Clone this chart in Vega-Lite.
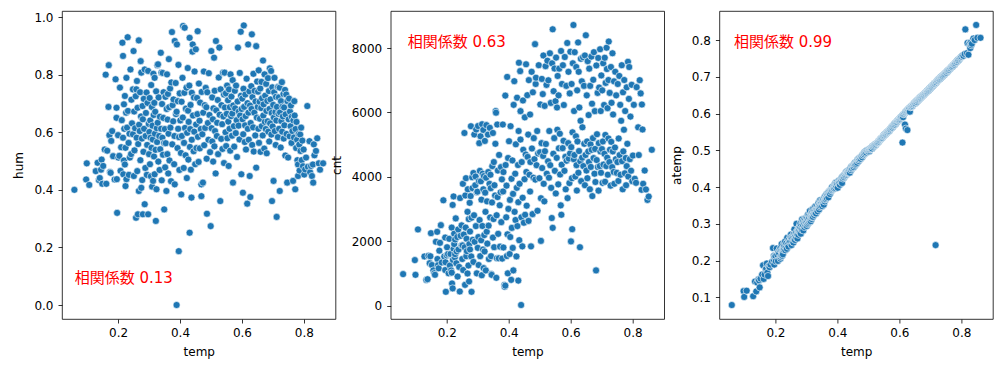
{
"$schema": "https://vega.github.io/schema/vega-lite/v6.json",
"padding": {"left": 12, "top": 10, "right": 5, "bottom": 5},
"background": "white",
"config": {
 "view": {"stroke": "#000", "strokeWidth": 0.8},
 "concat": {"spacing": 54.7},
 "axis": {"grid": false, "domain": false, "tickColor": "#000", "tickSize": 4, "tickWidth": 0.8, "labelColor": "#000", "labelFont": "DejaVu Sans", "labelFontSize": 12, "titleFont": "DejaVu Sans", "titleFontSize": 12, "titleFontWeight": "normal", "titleColor": "#000", "labelPadding": 4, "titlePadding": 8},
 "axisY": {"labelPadding": 5}
},
"bounds": "flush",
"datasets": {"day": [
{"temp":0.059,"atemp":0.079,"hum":0.400,"cnt":981},
{"temp":0.097,"atemp":0.117,"hum":0.436,"cnt":1416},
{"temp":0.099,"atemp":0.101,"hum":0.492,"cnt":959},
{"temp":0.107,"atemp":0.118,"hum":0.417,"cnt":2368},
{"temp":0.128,"atemp":0.103,"hum":0.465,"cnt":1529},
{"temp":0.134,"atemp":0.143,"hum":0.494,"cnt":801},
{"temp":0.138,"atemp":0.116,"hum":0.434,"cnt":822},
{"temp":0.141,"atemp":0.140,"hum":0.441,"cnt":1550},
{"temp":0.145,"atemp":0.149,"hum":0.470,"cnt":1321},
{"temp":0.147,"atemp":0.146,"hum":0.505,"cnt":1536},
{"temp":0.149,"atemp":0.127,"hum":0.421,"cnt":2252},
{"temp":0.152,"atemp":0.151,"hum":0.483,"cnt":1263},
{"temp":0.157,"atemp":0.162,"hum":0.540,"cnt":1096},
{"temp":0.160,"atemp":0.187,"hum":0.800,"cnt":1011},
{"temp":0.162,"atemp":0.150,"hum":0.421,"cnt":959},
{"temp":0.165,"atemp":0.162,"hum":0.536,"cnt":1985},
{"temp":0.169,"atemp":0.176,"hum":0.688,"cnt":2294},
{"temp":0.170,"atemp":0.178,"hum":0.833,"cnt":1450},
{"temp":0.172,"atemp":0.192,"hum":0.590,"cnt":1260},
{"temp":0.174,"atemp":0.167,"hum":0.462,"cnt":1162},
{"temp":0.176,"atemp":0.158,"hum":0.459,"cnt":1708},
{"temp":0.178,"atemp":0.185,"hum":0.570,"cnt":1951},
{"temp":0.181,"atemp":0.182,"hum":0.604,"cnt":2501},
{"temp":0.184,"atemp":0.189,"hum":0.517,"cnt":1341},
{"temp":0.189,"atemp":0.197,"hum":0.436,"cnt":3272},
{"temp":0.192,"atemp":0.234,"hum":0.784,"cnt":1530},
{"temp":0.195,"atemp":0.213,"hum":0.685,"cnt":1107},
{"temp":0.195,"atemp":0.200,"hum":0.650,"cnt":2115},
{"temp":0.196,"atemp":0.189,"hum":0.437,"cnt":1349},
{"temp":0.197,"atemp":0.210,"hum":0.320,"cnt":431},
{"temp":0.200,"atemp":0.212,"hum":0.590,"cnt":1562},
{"temp":0.201,"atemp":0.198,"hum":0.512,"cnt":1815},
{"temp":0.204,"atemp":0.233,"hum":0.518,"cnt":1606},
{"temp":0.206,"atemp":0.216,"hum":0.755,"cnt":1005},
{"temp":0.208,"atemp":0.199,"hum":0.466,"cnt":2076},
{"temp":0.210,"atemp":0.224,"hum":0.548,"cnt":1248},
{"temp":0.212,"atemp":0.219,"hum":0.642,"cnt":1605},
{"temp":0.214,"atemp":0.230,"hum":0.911,"cnt":1096},
{"temp":0.216,"atemp":0.205,"hum":0.581,"cnt":2424},
{"temp":0.216,"atemp":0.234,"hum":0.865,"cnt":1027},
{"temp":0.217,"atemp":0.210,"hum":0.454,"cnt":691},
{"temp":0.219,"atemp":0.228,"hum":0.697,"cnt":3129},
{"temp":0.219,"atemp":0.214,"hum":0.502,"cnt":538},
{"temp":0.220,"atemp":0.245,"hum":0.612,"cnt":1421},
{"temp":0.222,"atemp":0.227,"hum":0.726,"cnt":3392},
{"temp":0.222,"atemp":0.213,"hum":0.488,"cnt":1765},
{"temp":0.224,"atemp":0.226,"hum":0.413,"cnt":2236},
{"temp":0.224,"atemp":0.217,"hum":0.546,"cnt":1913},
{"temp":0.226,"atemp":0.243,"hum":0.668,"cnt":1501},
{"temp":0.227,"atemp":0.229,"hum":0.437,"cnt":1600},
{"temp":0.227,"atemp":0.234,"hum":0.789,"cnt":2056},
{"temp":0.229,"atemp":0.240,"hum":0.616,"cnt":2710},
{"temp":0.231,"atemp":0.252,"hum":0.930,"cnt":1317},
{"temp":0.232,"atemp":0.228,"hum":0.674,"cnt":1685},
{"temp":0.234,"atemp":0.239,"hum":0.563,"cnt":2132},
{"temp":0.235,"atemp":0.247,"hum":0.452,"cnt":905},
{"temp":0.237,"atemp":0.232,"hum":0.595,"cnt":2368},
{"temp":0.238,"atemp":0.262,"hum":0.512,"cnt":1746},
{"temp":0.240,"atemp":0.244,"hum":0.818,"cnt":1204},
{"temp":0.242,"atemp":0.238,"hum":0.524,"cnt":441},
{"temp":0.243,"atemp":0.255,"hum":0.713,"cnt":3342},
{"temp":0.245,"atemp":0.250,"hum":0.631,"cnt":2169},
{"temp":0.248,"atemp":0.266,"hum":0.593,"cnt":1872},
{"temp":0.248,"atemp":0.252,"hum":0.749,"cnt":2493},
{"temp":0.250,"atemp":0.271,"hum":0.882,"cnt":1450},
{"temp":0.251,"atemp":0.263,"hum":0.448,"cnt":1872},
{"temp":0.252,"atemp":0.242,"hum":0.672,"cnt":3784},
{"temp":0.253,"atemp":0.260,"hum":0.537,"cnt":1107},
{"temp":0.255,"atemp":0.251,"hum":0.614,"cnt":2209},
{"temp":0.257,"atemp":0.264,"hum":0.725,"cnt":5362},
{"temp":0.258,"atemp":0.249,"hum":0.303,"cnt":1815},
{"temp":0.259,"atemp":0.272,"hum":0.749,"cnt":647},
{"temp":0.260,"atemp":0.258,"hum":0.581,"cnt":3422},
{"temp":0.261,"atemp":0.285,"hum":0.778,"cnt":2425},
{"temp":0.262,"atemp":0.265,"hum":0.465,"cnt":3959},
{"temp":0.263,"atemp":0.256,"hum":0.685,"cnt":1536},
{"temp":0.264,"atemp":0.273,"hum":0.315,"cnt":2077},
{"temp":0.265,"atemp":0.268,"hum":0.559,"cnt":1693},
{"temp":0.267,"atemp":0.262,"hum":0.919,"cnt":1000},
{"temp":0.267,"atemp":0.277,"hum":0.396,"cnt":2914},
{"temp":0.268,"atemp":0.300,"hum":0.626,"cnt":3614},
{"temp":0.270,"atemp":0.271,"hum":0.604,"cnt":1248},
{"temp":0.271,"atemp":0.260,"hum":0.739,"cnt":2689},
{"temp":0.272,"atemp":0.278,"hum":0.503,"cnt":754},
{"temp":0.273,"atemp":0.284,"hum":0.847,"cnt":1913},
{"temp":0.274,"atemp":0.270,"hum":0.655,"cnt":3194},
{"temp":0.275,"atemp":0.288,"hum":0.407,"cnt":2302},
{"temp":0.275,"atemp":0.281,"hum":0.807,"cnt":1746},
{"temp":0.277,"atemp":0.283,"hum":0.578,"cnt":3403},
{"temp":0.278,"atemp":0.292,"hum":0.434,"cnt":5572},
{"temp":0.279,"atemp":0.276,"hum":0.691,"cnt":1530},
{"temp":0.280,"atemp":0.300,"hum":0.645,"cnt":2732},
{"temp":0.280,"atemp":0.290,"hum":0.315,"cnt":431},
{"temp":0.282,"atemp":0.273,"hum":0.532,"cnt":3987},
{"temp":0.283,"atemp":0.296,"hum":0.716,"cnt":3649},
{"temp":0.284,"atemp":0.287,"hum":0.612,"cnt":2046},
{"temp":0.286,"atemp":0.312,"hum":0.350,"cnt":1360},
{"temp":0.286,"atemp":0.283,"hum":0.818,"cnt":4120},
{"temp":0.288,"atemp":0.298,"hum":0.476,"cnt":2808},
{"temp":0.289,"atemp":0.307,"hum":0.587,"cnt":5315},
{"temp":0.290,"atemp":0.282,"hum":0.667,"cnt":1985},
{"temp":0.292,"atemp":0.302,"hum":0.738,"cnt":3740},
{"temp":0.293,"atemp":0.313,"hum":0.452,"cnt":4010},
{"temp":0.294,"atemp":0.291,"hum":0.556,"cnt":2471},
{"temp":0.295,"atemp":0.306,"hum":0.702,"cnt":5470},
{"temp":0.297,"atemp":0.312,"hum":0.315,"cnt":1004},
{"temp":0.297,"atemp":0.296,"hum":0.813,"cnt":3523},
{"temp":0.299,"atemp":0.304,"hum":0.629,"cnt":3540},
{"temp":0.300,"atemp":0.318,"hum":0.524,"cnt":1796},
{"temp":0.301,"atemp":0.294,"hum":0.601,"cnt":5578},
{"temp":0.302,"atemp":0.307,"hum":0.719,"cnt":2132},
{"temp":0.303,"atemp":0.316,"hum":0.489,"cnt":1263},
{"temp":0.304,"atemp":0.299,"hum":0.641,"cnt":3868},
{"temp":0.305,"atemp":0.325,"hum":0.581,"cnt":5046},
{"temp":0.306,"atemp":0.311,"hum":0.447,"cnt":2660},
{"temp":0.307,"atemp":0.302,"hum":0.764,"cnt":4186},
{"temp":0.308,"atemp":0.322,"hum":0.546,"cnt":1538},
{"temp":0.309,"atemp":0.315,"hum":0.688,"cnt":5259},
{"temp":0.310,"atemp":0.305,"hum":0.411,"cnt":3861},
{"temp":0.311,"atemp":0.335,"hum":0.623,"cnt":2031},
{"temp":0.312,"atemp":0.310,"hum":0.575,"cnt":3292},
{"temp":0.313,"atemp":0.323,"hum":0.431,"cnt":945},
{"temp":0.314,"atemp":0.307,"hum":0.803,"cnt":5633},
{"temp":0.315,"atemp":0.321,"hum":0.660,"cnt":2475},
{"temp":0.316,"atemp":0.328,"hum":0.516,"cnt":4098},
{"temp":0.317,"atemp":0.313,"hum":0.702,"cnt":1746},
{"temp":0.318,"atemp":0.326,"hum":0.454,"cnt":5456},
{"temp":0.318,"atemp":0.333,"hum":0.789,"cnt":3614},
{"temp":0.319,"atemp":0.318,"hum":0.595,"cnt":1167},
{"temp":0.320,"atemp":0.340,"hum":0.671,"cnt":4023},
{"temp":0.321,"atemp":0.319,"hum":0.539,"cnt":2192},
{"temp":0.322,"atemp":0.330,"hum":0.292,"cnt":1685},
{"temp":0.323,"atemp":0.327,"hum":0.742,"cnt":5115},
{"temp":0.324,"atemp":0.336,"hum":0.402,"cnt":3510},
{"temp":0.325,"atemp":0.324,"hum":0.614,"cnt":2914},
{"temp":0.326,"atemp":0.345,"hum":0.566,"cnt":1096},
{"temp":0.327,"atemp":0.331,"hum":0.833,"cnt":3974},
{"temp":0.328,"atemp":0.329,"hum":0.633,"cnt":5605},
{"temp":0.329,"atemp":0.348,"hum":0.836,"cnt":2298},
{"temp":0.330,"atemp":0.337,"hum":0.498,"cnt":3239},
{"temp":0.331,"atemp":0.328,"hum":0.721,"cnt":1927},
{"temp":0.333,"atemp":0.342,"hum":0.587,"cnt":5312},
{"temp":0.334,"atemp":0.339,"hum":0.469,"cnt":4150},
{"temp":0.335,"atemp":0.350,"hum":0.654,"cnt":2485},
{"temp":0.336,"atemp":0.334,"hum":0.541,"cnt":1451},
{"temp":0.338,"atemp":0.344,"hum":0.876,"cnt":3784},
{"temp":0.339,"atemp":0.357,"hum":0.612,"cnt":5521},
{"temp":0.340,"atemp":0.343,"hum":0.807,"cnt":2741},
{"temp":0.341,"atemp":0.339,"hum":0.433,"cnt":4066},
{"temp":0.342,"atemp":0.352,"hum":0.698,"cnt":3649},
{"temp":0.343,"atemp":0.346,"hum":0.581,"cnt":1538},
{"temp":0.344,"atemp":0.364,"hum":0.806,"cnt":985},
{"temp":0.345,"atemp":0.356,"hum":0.522,"cnt":958},
{"temp":0.346,"atemp":0.349,"hum":0.650,"cnt":3205},
{"temp":0.347,"atemp":0.361,"hum":0.739,"cnt":4333},
{"temp":0.349,"atemp":0.355,"hum":0.332,"cnt":5362},
{"temp":0.349,"atemp":0.358,"hum":0.563,"cnt":2114},
{"temp":0.351,"atemp":0.348,"hum":0.611,"cnt":2689},
{"temp":0.352,"atemp":0.361,"hum":0.478,"cnt":4459},
{"temp":0.353,"atemp":0.357,"hum":0.723,"cnt":1817},
{"temp":0.354,"atemp":0.366,"hum":0.562,"cnt":3740},
{"temp":0.356,"atemp":0.352,"hum":0.396,"cnt":3422},
{"temp":0.357,"atemp":0.363,"hum":0.681,"cnt":5026},
{"temp":0.358,"atemp":0.372,"hum":0.801,"cnt":6043},
{"temp":0.359,"atemp":0.361,"hum":0.524,"cnt":5992},
{"temp":0.360,"atemp":0.366,"hum":0.644,"cnt":866},
{"temp":0.361,"atemp":0.376,"hum":0.733,"cnt":2808},
{"temp":0.362,"atemp":0.369,"hum":0.457,"cnt":1472},
{"temp":0.363,"atemp":0.367,"hum":0.595,"cnt":5624},
{"temp":0.364,"atemp":0.373,"hum":0.854,"cnt":3372},
{"temp":0.365,"atemp":0.381,"hum":0.687,"cnt":4195},
{"temp":0.366,"atemp":0.370,"hum":0.502,"cnt":2231},
{"temp":0.368,"atemp":0.379,"hum":0.752,"cnt":1471},
{"temp":0.369,"atemp":0.384,"hum":0.616,"cnt":4680},
{"temp":0.371,"atemp":0.372,"hum":0.430,"cnt":3117},
{"temp":0.372,"atemp":0.387,"hum":0.773,"cnt":1834},
{"temp":0.374,"atemp":0.383,"hum":0.948,"cnt":3520},
{"temp":0.375,"atemp":0.390,"hum":0.558,"cnt":4302},
{"temp":0.376,"atemp":0.381,"hum":0.694,"cnt":2594},
{"temp":0.378,"atemp":0.392,"hum":0.638,"cnt":3922},
{"temp":0.379,"atemp":0.387,"hum":0.714,"cnt":1462},
{"temp":0.381,"atemp":0.395,"hum":0.489,"cnt":5624},
{"temp":0.382,"atemp":0.391,"hum":0.587,"cnt":3547},
{"temp":0.383,"atemp":0.400,"hum":0.917,"cnt":1807},
{"temp":0.383,"atemp":0.392,"hum":0.419,"cnt":4148},
{"temp":0.386,"atemp":0.394,"hum":0.771,"cnt":645},
{"temp":0.387,"atemp":0.398,"hum":0.663,"cnt":586},
{"temp":0.389,"atemp":0.397,"hum":0.000,"cnt":623},
{"temp":0.389,"atemp":0.402,"hum":0.671,"cnt":6522},
{"temp":0.390,"atemp":0.396,"hum":0.905,"cnt":4367},
{"temp":0.392,"atemp":0.409,"hum":0.545,"cnt":2744},
{"temp":0.393,"atemp":0.401,"hum":0.708,"cnt":3727},
{"temp":0.394,"atemp":0.397,"hum":0.612,"cnt":1542},
{"temp":0.395,"atemp":0.412,"hum":0.834,"cnt":7102},
{"temp":0.396,"atemp":0.407,"hum":0.187,"cnt":2216},
{"temp":0.397,"atemp":0.401,"hum":0.583,"cnt":1005},
{"temp":0.398,"atemp":0.413,"hum":0.469,"cnt":4585},
{"temp":0.399,"atemp":0.409,"hum":0.735,"cnt":3005},
{"temp":0.401,"atemp":0.398,"hum":0.641,"cnt":5106},
{"temp":0.403,"atemp":0.412,"hum":0.528,"cnt":1605},
{"temp":0.404,"atemp":0.409,"hum":0.384,"cnt":3285},
{"temp":0.405,"atemp":0.418,"hum":0.706,"cnt":2132},
{"temp":0.406,"atemp":0.412,"hum":0.587,"cnt":5573},
{"temp":0.408,"atemp":0.406,"hum":0.789,"cnt":802},
{"temp":0.409,"atemp":0.420,"hum":0.651,"cnt":3940},
{"temp":0.410,"atemp":0.415,"hum":0.969,"cnt":2416},
{"temp":0.412,"atemp":0.422,"hum":0.476,"cnt":4510},
{"temp":0.413,"atemp":0.417,"hum":0.563,"cnt":1795},
{"temp":0.414,"atemp":0.425,"hum":0.737,"cnt":3471},
{"temp":0.415,"atemp":0.411,"hum":0.963,"cnt":1096},
{"temp":0.416,"atemp":0.428,"hum":0.615,"cnt":6235},
{"temp":0.418,"atemp":0.423,"hum":0.520,"cnt":6970},
{"temp":0.419,"atemp":0.430,"hum":0.682,"cnt":2914},
{"temp":0.421,"atemp":0.426,"hum":0.755,"cnt":4098},
{"temp":0.422,"atemp":0.427,"hum":0.441,"cnt":2660},
{"temp":0.423,"atemp":0.434,"hum":0.598,"cnt":5010},
{"temp":0.425,"atemp":0.430,"hum":0.823,"cnt":1530},
{"temp":0.426,"atemp":0.435,"hum":0.675,"cnt":3659},
{"temp":0.427,"atemp":0.432,"hum":0.505,"cnt":6457},
{"temp":0.428,"atemp":0.441,"hum":0.636,"cnt":2471},
{"temp":0.430,"atemp":0.434,"hum":0.762,"cnt":4367},
{"temp":0.431,"atemp":0.437,"hum":0.251,"cnt":779},
{"temp":0.431,"atemp":0.443,"hum":0.928,"cnt":3214},
{"temp":0.432,"atemp":0.439,"hum":0.549,"cnt":5423},
{"temp":0.433,"atemp":0.440,"hum":0.611,"cnt":7542},
{"temp":0.434,"atemp":0.444,"hum":0.695,"cnt":2034},
{"temp":0.435,"atemp":0.441,"hum":0.470,"cnt":3785},
{"temp":0.437,"atemp":0.446,"hum":0.373,"cnt":7282},
{"temp":0.438,"atemp":0.443,"hum":0.574,"cnt":6040},
{"temp":0.438,"atemp":0.446,"hum":0.737,"cnt":5158},
{"temp":0.440,"atemp":0.439,"hum":0.880,"cnt":22},
{"temp":0.441,"atemp":0.449,"hum":0.905,"cnt":2743},
{"temp":0.442,"atemp":0.451,"hum":0.658,"cnt":4459},
{"temp":0.444,"atemp":0.446,"hum":0.534,"cnt":1842},
{"temp":0.445,"atemp":0.456,"hum":0.721,"cnt":3351},
{"temp":0.446,"atemp":0.450,"hum":0.602,"cnt":6370},
{"temp":0.447,"atemp":0.452,"hum":0.811,"cnt":4840},
{"temp":0.449,"atemp":0.458,"hum":0.489,"cnt":2576},
{"temp":0.451,"atemp":0.455,"hum":0.888,"cnt":3926},
{"temp":0.452,"atemp":0.460,"hum":0.627,"cnt":5847},
{"temp":0.453,"atemp":0.454,"hum":0.545,"cnt":2823},
{"temp":0.455,"atemp":0.463,"hum":0.719,"cnt":4694},
{"temp":0.456,"atemp":0.458,"hum":0.663,"cnt":7494},
{"temp":0.457,"atemp":0.467,"hum":0.951,"cnt":4151},
{"temp":0.458,"atemp":0.461,"hum":0.584,"cnt":3105},
{"temp":0.460,"atemp":0.468,"hum":0.497,"cnt":6536},
{"temp":0.461,"atemp":0.463,"hum":0.769,"cnt":4620},
{"temp":0.463,"atemp":0.470,"hum":0.640,"cnt":5312},
{"temp":0.464,"atemp":0.466,"hum":0.544,"cnt":2633},
{"temp":0.465,"atemp":0.474,"hum":0.703,"cnt":7003},
{"temp":0.467,"atemp":0.472,"hum":0.611,"cnt":4066},
{"temp":0.469,"atemp":0.471,"hum":0.419,"cnt":3544},
{"temp":0.469,"atemp":0.476,"hum":0.378,"cnt":5936},
{"temp":0.470,"atemp":0.478,"hum":0.740,"cnt":4460},
{"temp":0.472,"atemp":0.475,"hum":0.593,"cnt":1842},
{"temp":0.474,"atemp":0.481,"hum":0.425,"cnt":7261},
{"temp":0.475,"atemp":0.477,"hum":0.668,"cnt":4880},
{"temp":0.477,"atemp":0.483,"hum":0.811,"cnt":2843},
{"temp":0.478,"atemp":0.484,"hum":0.555,"cnt":6624},
{"temp":0.480,"atemp":0.481,"hum":0.694,"cnt":3974},
{"temp":0.481,"atemp":0.488,"hum":0.615,"cnt":5202},
{"temp":0.483,"atemp":0.486,"hum":0.754,"cnt":4549},
{"temp":0.485,"atemp":0.490,"hum":0.687,"cnt":8120},
{"temp":0.486,"atemp":0.492,"hum":0.508,"cnt":3915},
{"temp":0.487,"atemp":0.489,"hum":0.317,"cnt":6883},
{"temp":0.488,"atemp":0.495,"hum":0.739,"cnt":7078},
{"temp":0.490,"atemp":0.492,"hum":0.632,"cnt":4362},
{"temp":0.492,"atemp":0.497,"hum":0.574,"cnt":5423},
{"temp":0.493,"atemp":0.494,"hum":0.805,"cnt":2947},
{"temp":0.495,"atemp":0.500,"hum":0.660,"cnt":4727},
{"temp":0.497,"atemp":0.498,"hum":0.531,"cnt":7466},
{"temp":0.499,"atemp":0.500,"hum":0.274,"cnt":3958},
{"temp":0.501,"atemp":0.496,"hum":0.882,"cnt":4763},
{"temp":0.502,"atemp":0.503,"hum":0.614,"cnt":6248},
{"temp":0.504,"atemp":0.498,"hum":0.568,"cnt":2012},
{"temp":0.504,"atemp":0.502,"hum":0.721,"cnt":3336},
{"temp":0.506,"atemp":0.505,"hum":0.645,"cnt":5046},
{"temp":0.507,"atemp":0.503,"hum":0.498,"cnt":7040},
{"temp":0.508,"atemp":0.506,"hum":0.683,"cnt":4274},
{"temp":0.510,"atemp":0.504,"hum":0.859,"cnt":6569},
{"temp":0.511,"atemp":0.508,"hum":0.551,"cnt":4649},
{"temp":0.512,"atemp":0.505,"hum":0.744,"cnt":7767},
{"temp":0.513,"atemp":0.511,"hum":0.604,"cnt":3784},
{"temp":0.515,"atemp":0.510,"hum":0.457,"cnt":3239},
{"temp":0.516,"atemp":0.509,"hum":0.917,"cnt":6203},
{"temp":0.517,"atemp":0.513,"hum":0.676,"cnt":4795},
{"temp":0.519,"atemp":0.512,"hum":0.587,"cnt":7436},
{"temp":0.520,"atemp":0.515,"hum":0.633,"cnt":5020},
{"temp":0.522,"atemp":0.514,"hum":0.712,"cnt":6855},
{"temp":0.523,"atemp":0.517,"hum":0.524,"cnt":4098},
{"temp":0.525,"atemp":0.516,"hum":0.790,"cnt":7605},
{"temp":0.527,"atemp":0.519,"hum":0.894,"cnt":4484},
{"temp":0.528,"atemp":0.520,"hum":0.661,"cnt":6998},
{"temp":0.530,"atemp":0.521,"hum":0.361,"cnt":3974},
{"temp":0.531,"atemp":0.522,"hum":0.749,"cnt":5423},
{"temp":0.533,"atemp":0.525,"hum":0.577,"cnt":7836},
{"temp":0.534,"atemp":0.524,"hum":0.694,"cnt":4363},
{"temp":0.536,"atemp":0.527,"hum":0.628,"cnt":6296},
{"temp":0.537,"atemp":0.528,"hum":0.542,"cnt":3659},
{"temp":0.539,"atemp":0.531,"hum":0.807,"cnt":2722},
{"temp":0.540,"atemp":0.530,"hum":0.655,"cnt":7525},
{"temp":0.542,"atemp":0.532,"hum":0.731,"cnt":8580},
{"temp":0.542,"atemp":0.533,"hum":0.493,"cnt":2417},
{"temp":0.544,"atemp":0.535,"hum":0.807,"cnt":4717},
{"temp":0.545,"atemp":0.534,"hum":0.686,"cnt":6660},
{"temp":0.547,"atemp":0.537,"hum":0.600,"cnt":5202},
{"temp":0.548,"atemp":0.538,"hum":0.735,"cnt":7363},
{"temp":0.549,"atemp":0.540,"hum":0.552,"cnt":4186},
{"temp":0.551,"atemp":0.542,"hum":0.664,"cnt":6349},
{"temp":0.552,"atemp":0.541,"hum":0.762,"cnt":3485},
{"temp":0.553,"atemp":0.544,"hum":0.579,"cnt":7702},
{"temp":0.555,"atemp":0.543,"hum":0.711,"cnt":4590},
{"temp":0.556,"atemp":0.546,"hum":0.637,"cnt":6153},
{"temp":0.557,"atemp":0.545,"hum":0.483,"cnt":5463},
{"temp":0.558,"atemp":0.548,"hum":0.749,"cnt":7132},
{"temp":0.560,"atemp":0.547,"hum":0.612,"cnt":3767},
{"temp":0.561,"atemp":0.550,"hum":0.687,"cnt":6530},
{"temp":0.562,"atemp":0.549,"hum":0.536,"cnt":4886},
{"temp":0.563,"atemp":0.552,"hum":0.801,"cnt":7359},
{"temp":0.565,"atemp":0.551,"hum":0.656,"cnt":5338},
{"temp":0.566,"atemp":0.554,"hum":0.724,"cnt":4073},
{"temp":0.568,"atemp":0.553,"hum":0.588,"cnt":3115},
{"temp":0.569,"atemp":0.556,"hum":0.665,"cnt":7907},
{"temp":0.570,"atemp":0.558,"hum":0.781,"cnt":2823},
{"temp":0.571,"atemp":0.557,"hum":0.425,"cnt":4378},
{"temp":0.572,"atemp":0.560,"hum":0.693,"cnt":6883},
{"temp":0.574,"atemp":0.561,"hum":0.621,"cnt":4891},
{"temp":0.575,"atemp":0.563,"hum":0.550,"cnt":7466},
{"temp":0.577,"atemp":0.562,"hum":0.744,"cnt":5119},
{"temp":0.578,"atemp":0.566,"hum":0.683,"cnt":6230},
{"temp":0.580,"atemp":0.565,"hum":0.597,"cnt":4186},
{"temp":0.581,"atemp":0.568,"hum":0.762,"cnt":7720},
{"temp":0.583,"atemp":0.569,"hum":0.642,"cnt":4620},
{"temp":0.584,"atemp":0.572,"hum":0.514,"cnt":3613},
{"temp":0.586,"atemp":0.570,"hum":0.707,"cnt":6824},
{"temp":0.587,"atemp":0.574,"hum":0.894,"cnt":4502},
{"temp":0.589,"atemp":0.573,"hum":0.623,"cnt":8156},
{"temp":0.590,"atemp":0.576,"hum":0.672,"cnt":3340},
{"temp":0.592,"atemp":0.578,"hum":0.575,"cnt":5047},
{"temp":0.593,"atemp":0.577,"hum":0.806,"cnt":7261},
{"temp":0.594,"atemp":0.580,"hum":0.658,"cnt":4568},
{"temp":0.596,"atemp":0.582,"hum":0.949,"cnt":3806},
{"temp":0.597,"atemp":0.581,"hum":0.727,"cnt":6591},
{"temp":0.598,"atemp":0.583,"hum":0.454,"cnt":4726},
{"temp":0.599,"atemp":0.585,"hum":0.681,"cnt":7884},
{"temp":0.601,"atemp":0.584,"hum":0.717,"cnt":1996},
{"temp":0.602,"atemp":0.588,"hum":0.645,"cnt":4922},
{"temp":0.603,"atemp":0.586,"hum":0.390,"cnt":6883},
{"temp":0.604,"atemp":0.590,"hum":0.593,"cnt":3958},
{"temp":0.605,"atemp":0.589,"hum":0.751,"cnt":2376},
{"temp":0.606,"atemp":0.591,"hum":0.971,"cnt":5382},
{"temp":0.607,"atemp":0.592,"hum":0.688,"cnt":7525},
{"temp":0.609,"atemp":0.594,"hum":0.566,"cnt":8714},
{"temp":0.610,"atemp":0.521,"hum":0.624,"cnt":4549},
{"temp":0.611,"atemp":0.596,"hum":0.731,"cnt":6043},
{"temp":0.612,"atemp":0.590,"hum":0.656,"cnt":4677},
{"temp":0.613,"atemp":0.598,"hum":0.540,"cnt":7870},
{"temp":0.615,"atemp":0.599,"hum":0.786,"cnt":4010},
{"temp":0.617,"atemp":0.601,"hum":0.352,"cnt":5260},
{"temp":0.618,"atemp":0.570,"hum":0.701,"cnt":7410},
{"temp":0.619,"atemp":0.603,"hum":0.612,"cnt":4363},
{"temp":0.620,"atemp":0.604,"hum":0.905,"cnt":3574},
{"temp":0.621,"atemp":0.559,"hum":0.668,"cnt":6685},
{"temp":0.622,"atemp":0.606,"hum":0.574,"cnt":5099},
{"temp":0.624,"atemp":0.607,"hum":0.742,"cnt":8173},
{"temp":0.625,"atemp":0.608,"hum":0.448,"cnt":4127},
{"temp":0.626,"atemp":0.555,"hum":0.693,"cnt":7261},
{"temp":0.627,"atemp":0.610,"hum":0.375,"cnt":4801},
{"temp":0.628,"atemp":0.611,"hum":0.632,"cnt":6153},
{"temp":0.630,"atemp":0.609,"hum":0.760,"cnt":1815},
{"temp":0.631,"atemp":0.614,"hum":0.681,"cnt":4486},
{"temp":0.632,"atemp":0.613,"hum":0.940,"cnt":5740},
{"temp":0.633,"atemp":0.615,"hum":0.556,"cnt":7665},
{"temp":0.634,"atemp":0.605,"hum":0.722,"cnt":3867},
{"temp":0.636,"atemp":0.617,"hum":0.617,"cnt":6965},
{"temp":0.637,"atemp":0.618,"hum":0.803,"cnt":4595},
{"temp":0.638,"atemp":0.620,"hum":0.533,"cnt":5538},
{"temp":0.640,"atemp":0.619,"hum":0.668,"cnt":7713},
{"temp":0.641,"atemp":0.622,"hum":0.744,"cnt":4334},
{"temp":0.643,"atemp":0.621,"hum":0.589,"cnt":6824},
{"temp":0.644,"atemp":0.624,"hum":0.707,"cnt":5026},
{"temp":0.646,"atemp":0.626,"hum":0.899,"cnt":3740},
{"temp":0.646,"atemp":0.625,"hum":0.477,"cnt":7767},
{"temp":0.648,"atemp":0.627,"hum":0.651,"cnt":4679},
{"temp":0.649,"atemp":0.629,"hum":0.776,"cnt":8395},
{"temp":0.651,"atemp":0.630,"hum":0.688,"cnt":4195},
{"temp":0.652,"atemp":0.628,"hum":0.741,"cnt":6530},
{"temp":0.653,"atemp":0.633,"hum":0.612,"cnt":5099},
{"temp":0.654,"atemp":0.631,"hum":0.815,"cnt":3958},
{"temp":0.655,"atemp":0.634,"hum":0.563,"cnt":7592},
{"temp":0.657,"atemp":0.632,"hum":0.706,"cnt":4788},
{"temp":0.658,"atemp":0.636,"hum":0.647,"cnt":5918},
{"temp":0.659,"atemp":0.635,"hum":0.752,"cnt":4459},
{"temp":0.660,"atemp":0.638,"hum":0.532,"cnt":7359},
{"temp":0.662,"atemp":0.637,"hum":0.684,"cnt":3614},
{"temp":0.663,"atemp":0.640,"hum":0.775,"cnt":6824},
{"temp":0.664,"atemp":0.639,"hum":0.621,"cnt":5008},
{"temp":0.665,"atemp":0.642,"hum":0.718,"cnt":4308},
{"temp":0.667,"atemp":0.641,"hum":0.589,"cnt":7733},
{"temp":0.668,"atemp":0.644,"hum":0.849,"cnt":4840},
{"temp":0.669,"atemp":0.643,"hum":0.658,"cnt":6271},
{"temp":0.670,"atemp":0.646,"hum":0.697,"cnt":3403},
{"temp":0.672,"atemp":0.645,"hum":0.543,"cnt":5202},
{"temp":0.673,"atemp":0.648,"hum":0.801,"cnt":7013},
{"temp":0.674,"atemp":0.647,"hum":0.636,"cnt":4582},
{"temp":0.675,"atemp":0.650,"hum":0.727,"cnt":7870},
{"temp":0.677,"atemp":0.649,"hum":0.611,"cnt":4098},
{"temp":0.678,"atemp":0.652,"hum":0.768,"cnt":6040},
{"temp":0.679,"atemp":0.651,"hum":0.674,"cnt":4866},
{"temp":0.680,"atemp":0.654,"hum":0.527,"cnt":3840},
{"temp":0.682,"atemp":0.653,"hum":0.709,"cnt":1096},
{"temp":0.683,"atemp":0.656,"hum":0.638,"cnt":7458},
{"temp":0.684,"atemp":0.655,"hum":0.788,"cnt":4521},
{"temp":0.685,"atemp":0.658,"hum":0.602,"cnt":5323},
{"temp":0.687,"atemp":0.657,"hum":0.743,"cnt":6606},
{"temp":0.688,"atemp":0.660,"hum":0.568,"cnt":4304},
{"temp":0.689,"atemp":0.659,"hum":0.681,"cnt":7691},
{"temp":0.690,"atemp":0.662,"hum":0.822,"cnt":3572},
{"temp":0.691,"atemp":0.661,"hum":0.631,"cnt":5047},
{"temp":0.692,"atemp":0.664,"hum":0.714,"cnt":6772},
{"temp":0.694,"atemp":0.663,"hum":0.813,"cnt":4333},
{"temp":0.695,"atemp":0.666,"hum":0.592,"cnt":7961},
{"temp":0.696,"atemp":0.665,"hum":0.667,"cnt":4790},
{"temp":0.697,"atemp":0.668,"hum":0.361,"cnt":6043},
{"temp":0.698,"atemp":0.667,"hum":0.756,"cnt":4127},
{"temp":0.699,"atemp":0.670,"hum":0.620,"cnt":7149},
{"temp":0.701,"atemp":0.669,"hum":0.695,"cnt":4862},
{"temp":0.702,"atemp":0.672,"hum":0.431,"cnt":6685},
{"temp":0.703,"atemp":0.671,"hum":0.651,"cnt":3814},
{"temp":0.704,"atemp":0.674,"hum":0.739,"cnt":5099},
{"temp":0.705,"atemp":0.673,"hum":0.789,"cnt":7525},
{"temp":0.706,"atemp":0.676,"hum":0.604,"cnt":4380},
{"temp":0.708,"atemp":0.675,"hum":0.670,"cnt":6230},
{"temp":0.709,"atemp":0.677,"hum":0.556,"cnt":4716},
{"temp":0.710,"atemp":0.679,"hum":0.723,"cnt":7697},
{"temp":0.711,"atemp":0.678,"hum":0.641,"cnt":3846},
{"temp":0.712,"atemp":0.680,"hum":0.306,"cnt":5302},
{"temp":0.713,"atemp":0.682,"hum":0.688,"cnt":6917},
{"temp":0.715,"atemp":0.681,"hum":0.757,"cnt":4334},
{"temp":0.716,"atemp":0.684,"hum":0.583,"cnt":8009},
{"temp":0.717,"atemp":0.242,"hum":0.757,"cnt":7347},
{"temp":0.718,"atemp":0.683,"hum":0.664,"cnt":4595},
{"temp":0.719,"atemp":0.686,"hum":0.721,"cnt":6133},
{"temp":0.720,"atemp":0.685,"hum":0.612,"cnt":4067},
{"temp":0.722,"atemp":0.688,"hum":0.396,"cnt":5191},
{"temp":0.722,"atemp":0.690,"hum":0.755,"cnt":7006},
{"temp":0.723,"atemp":0.689,"hum":0.669,"cnt":8200},
{"temp":0.725,"atemp":0.692,"hum":0.547,"cnt":4459},
{"temp":0.726,"atemp":0.691,"hum":0.708,"cnt":6606},
{"temp":0.727,"atemp":0.694,"hum":0.639,"cnt":4844},
{"temp":0.729,"atemp":0.693,"hum":0.774,"cnt":3727},
{"temp":0.730,"atemp":0.696,"hum":0.602,"cnt":7410},
{"temp":0.731,"atemp":0.695,"hum":0.689,"cnt":5087},
{"temp":0.732,"atemp":0.698,"hum":0.655,"cnt":6299},
{"temp":0.734,"atemp":0.697,"hum":0.733,"cnt":4302},
{"temp":0.735,"atemp":0.700,"hum":0.578,"cnt":7836},
{"temp":0.736,"atemp":0.699,"hum":0.686,"cnt":4790},
{"temp":0.737,"atemp":0.702,"hum":0.624,"cnt":5936},
{"temp":0.739,"atemp":0.701,"hum":0.747,"cnt":4153},
{"temp":0.740,"atemp":0.704,"hum":0.519,"cnt":6965},
{"temp":0.741,"atemp":0.703,"hum":0.662,"cnt":3786},
{"temp":0.743,"atemp":0.706,"hum":0.731,"cnt":4910},
{"temp":0.744,"atemp":0.705,"hum":0.594,"cnt":7261},
{"temp":0.746,"atemp":0.708,"hum":0.425,"cnt":4549},
{"temp":0.747,"atemp":0.707,"hum":0.708,"cnt":6530},
{"temp":0.749,"atemp":0.710,"hum":0.512,"cnt":4123},
{"temp":0.751,"atemp":0.712,"hum":0.645,"cnt":4459},
{"temp":0.752,"atemp":0.711,"hum":0.717,"cnt":6883},
{"temp":0.754,"atemp":0.714,"hum":0.586,"cnt":3872},
{"temp":0.755,"atemp":0.716,"hum":0.672,"cnt":5191},
{"temp":0.757,"atemp":0.715,"hum":0.621,"cnt":7132},
{"temp":0.758,"atemp":0.718,"hum":0.693,"cnt":4677},
{"temp":0.760,"atemp":0.720,"hum":0.563,"cnt":6235},
{"temp":0.761,"atemp":0.719,"hum":0.654,"cnt":4066},
{"temp":0.763,"atemp":0.722,"hum":0.604,"cnt":5740},
{"temp":0.765,"atemp":0.724,"hum":0.431,"cnt":7466},
{"temp":0.766,"atemp":0.723,"hum":0.641,"cnt":4486},
{"temp":0.768,"atemp":0.726,"hum":0.582,"cnt":3613},
{"temp":0.769,"atemp":0.728,"hum":0.708,"cnt":6624},
{"temp":0.770,"atemp":0.727,"hum":0.658,"cnt":4790},
{"temp":0.772,"atemp":0.730,"hum":0.402,"cnt":5463},
{"temp":0.773,"atemp":0.729,"hum":0.611,"cnt":7006},
{"temp":0.775,"atemp":0.732,"hum":0.545,"cnt":4110},
{"temp":0.776,"atemp":0.734,"hum":0.636,"cnt":6043},
{"temp":0.778,"atemp":0.733,"hum":0.574,"cnt":4585},
{"temp":0.779,"atemp":0.736,"hum":0.503,"cnt":3740},
{"temp":0.781,"atemp":0.738,"hum":0.448,"cnt":6779},
{"temp":0.781,"atemp":0.737,"hum":0.488,"cnt":4333},
{"temp":0.783,"atemp":0.740,"hum":0.594,"cnt":5026},
{"temp":0.785,"atemp":0.742,"hum":0.557,"cnt":7572},
{"temp":0.786,"atemp":0.741,"hum":0.467,"cnt":4010},
{"temp":0.788,"atemp":0.744,"hum":0.592,"cnt":6421},
{"temp":0.789,"atemp":0.746,"hum":0.535,"cnt":7410},
{"temp":0.791,"atemp":0.745,"hum":0.616,"cnt":4549},
{"temp":0.793,"atemp":0.748,"hum":0.503,"cnt":5870},
{"temp":0.795,"atemp":0.750,"hum":0.571,"cnt":4191},
{"temp":0.797,"atemp":0.752,"hum":0.482,"cnt":6857},
{"temp":0.799,"atemp":0.754,"hum":0.540,"cnt":3867},
{"temp":0.801,"atemp":0.755,"hum":0.453,"cnt":4661},
{"temp":0.804,"atemp":0.758,"hum":0.471,"cnt":6235},
{"temp":0.807,"atemp":0.757,"hum":0.512,"cnt":3940},
{"temp":0.811,"atemp":0.762,"hum":0.691,"cnt":3814},
{"temp":0.813,"atemp":0.829,"hum":0.480,"cnt":6785},
{"temp":0.818,"atemp":0.764,"hum":0.569,"cnt":5538},
{"temp":0.820,"atemp":0.792,"hum":0.461,"cnt":4677},
{"temp":0.823,"atemp":0.760,"hum":0.483,"cnt":7001},
{"temp":0.826,"atemp":0.790,"hum":0.448,"cnt":6591},
{"temp":0.829,"atemp":0.778,"hum":0.488,"cnt":3600},
{"temp":0.830,"atemp":0.793,"hum":0.425,"cnt":6246},
{"temp":0.832,"atemp":0.786,"hum":0.558,"cnt":5470},
{"temp":0.834,"atemp":0.790,"hum":0.520,"cnt":3785},
{"temp":0.839,"atemp":0.804,"hum":0.535,"cnt":4195},
{"temp":0.843,"atemp":0.800,"hum":0.579,"cnt":3610},
{"temp":0.848,"atemp":0.841,"hum":0.492,"cnt":3285},
{"temp":0.852,"atemp":0.806,"hum":0.470,"cnt":3387},
{"temp":0.862,"atemp":0.806,"hum":0.492,"cnt":4840}
]},
"hconcat": [
 {"width": 273.5, "height": 308,
  "layer": [
   {"data": {"name": "day"},
    "mark": {"type": "circle", "fill": "#1f77b4", "stroke": "white", "strokeWidth": 0.6, "opacity": 1, "size": 50},
    "encoding": {
     "x": {"field": "temp", "type": "quantitative", "title": "temp", "scale": {"domain": [0.019, 0.902], "nice": false, "zero": false}, "axis": {"values": [0.2, 0.4, 0.6, 0.8], "format": ".1f"}},
     "y": {"field": "hum", "type": "quantitative", "title": "hum", "scale": {"domain": [-0.0486, 1.0211], "nice": false, "zero": false}, "axis": {"values": [0, 0.2, 0.4, 0.6, 0.8, 1.0], "format": ".1f"}}
    }},
   {"data": {"values": [{"temp": 0.06, "hum": 0.075, "label": "相関係数 0.13"}]},
    "mark": {"type": "text", "align": "left", "baseline": "alphabetic", "fontSize": 15, "font": "DejaVu Sans, Noto Sans CJK JP", "color": "red"},
    "encoding": {
     "x": {"field": "temp", "type": "quantitative", "title": "temp"},
     "y": {"field": "hum", "type": "quantitative", "title": "hum"},
     "text": {"field": "label"}
    }}
  ]},
 {"width": 273.5, "height": 308,
  "layer": [
   {"data": {"name": "day"},
    "mark": {"type": "circle", "fill": "#1f77b4", "stroke": "white", "strokeWidth": 0.6, "opacity": 1, "size": 50},
    "encoding": {
     "x": {"field": "temp", "type": "quantitative", "title": "temp", "scale": {"domain": [0.019, 0.902], "nice": false, "zero": false}, "axis": {"values": [0.2, 0.4, 0.6, 0.8], "format": ".1f"}},
     "y": {"field": "cnt", "type": "quantitative", "title": "cnt", "scale": {"domain": [-412.6, 9148.6], "nice": false, "zero": false}, "axis": {"values": [0, 2000, 4000, 6000, 8000], "format": "d"}}
    }},
   {"data": {"values": [{"temp": 0.074, "cnt": 8030, "label": "相関係数 0.63"}]},
    "mark": {"type": "text", "align": "left", "baseline": "alphabetic", "fontSize": 15, "font": "DejaVu Sans, Noto Sans CJK JP", "color": "red"},
    "encoding": {
     "x": {"field": "temp", "type": "quantitative", "title": "temp"},
     "y": {"field": "cnt", "type": "quantitative", "title": "cnt"},
     "text": {"field": "label"}
    }}
  ]},
 {"width": 273.5, "height": 308,
  "layer": [
   {"data": {"name": "day"},
    "mark": {"type": "circle", "fill": "#1f77b4", "stroke": "white", "strokeWidth": 0.6, "opacity": 1, "size": 50},
    "encoding": {
     "x": {"field": "temp", "type": "quantitative", "title": "temp", "scale": {"domain": [0.019, 0.902], "nice": false, "zero": false}, "axis": {"values": [0.2, 0.4, 0.6, 0.8], "format": ".1f"}},
     "y": {"field": "atemp", "type": "quantitative", "title": "atemp", "scale": {"domain": [0.041, 0.879], "nice": false, "zero": false}, "axis": {"values": [0.1, 0.2, 0.3, 0.4, 0.5, 0.6, 0.7, 0.8], "format": ".1f"}}
    }},
   {"data": {"values": [{"temp": 0.066, "atemp": 0.782, "label": "相関係数 0.99"}]},
    "mark": {"type": "text", "align": "left", "baseline": "alphabetic", "fontSize": 15, "font": "DejaVu Sans, Noto Sans CJK JP", "color": "red"},
    "encoding": {
     "x": {"field": "temp", "type": "quantitative", "title": "temp"},
     "y": {"field": "atemp", "type": "quantitative", "title": "atemp"},
     "text": {"field": "label"}
    }}
  ]}
]
}
